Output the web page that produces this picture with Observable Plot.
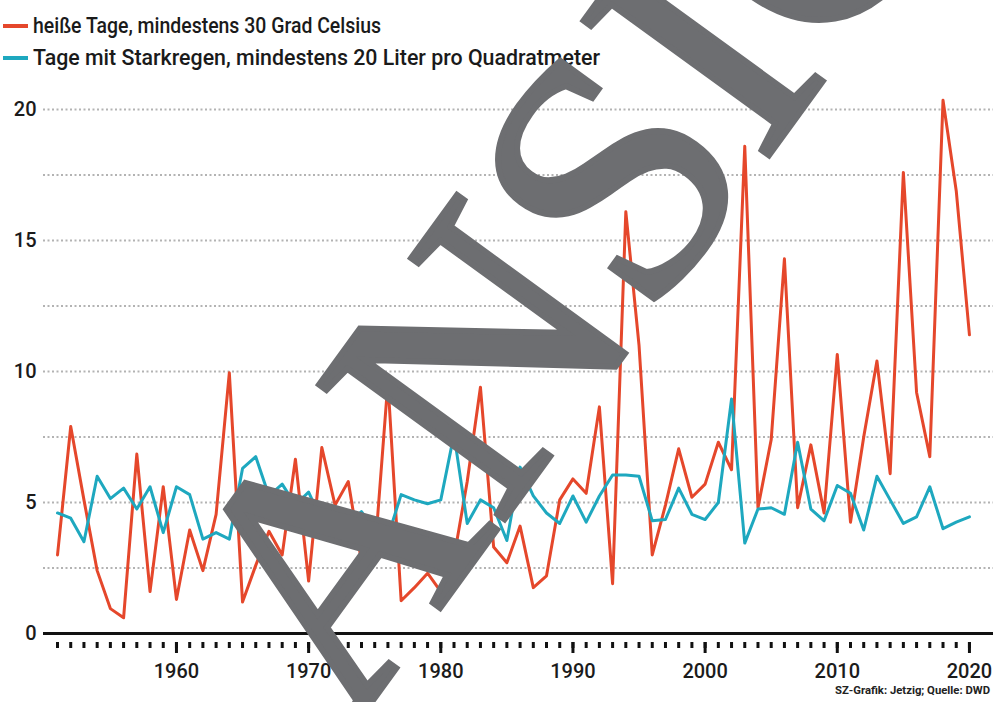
<!DOCTYPE html>
<html><head><meta charset="utf-8">
<script src="https://cdn.jsdelivr.net/npm/d3@7"></script>
<script src="https://cdn.jsdelivr.net/npm/@observablehq/plot@0.6"></script>
<style>
body{margin:0;background:#fff;}
#wrap{position:relative;width:998px;height:702px;overflow:hidden;background:#fff;font-family:Roboto,"Liberation Sans",sans-serif;}
.row{position:absolute;left:33px;white-space:nowrap;font-size:22px;line-height:24px;font-weight:500;color:#1a1a1a;transform-origin:0 50%;}
.sw{position:absolute;left:3px;width:25px;height:4px;}
#chart{position:absolute;left:0;top:80px;}
#credit{position:absolute;left:835px;top:684px;font-size:10.5px;font-weight:bold;color:#222;white-space:nowrap;transform-origin:0 50%;}
#wm{position:absolute;left:0;top:0;pointer-events:none;}
</style></head>
<body><div id="wrap">
<div class="sw" style="top:24px;background:#e5472b"></div>
<div class="row fit" data-w="348" style="top:14px">heiße Tage, mindestens 30 Grad Celsius</div>
<div class="sw" style="top:56px;background:#1ea8bf"></div>
<div class="row fit" data-w="567" style="top:46px">Tage mit Starkregen, mindestens 20 Liter pro Quadratmeter</div>
<div id="chart"></div>
<div id="credit" class="fit" data-w="155">SZ-Grafik: Jetzig; Quelle: DWD</div>
<svg id="wm" width="998" height="702"><text x="350" y="732" transform="rotate(-54 350 732)" font-family="Liberation Serif" font-size="350" fill="#6d6e71" stroke="#6d6e71" stroke-width="6" stroke-linejoin="miter">ANSICHT</text></svg>
</div>
<script>
const years = [1951,1952,1953,1954,1955,1956,1957,1958,1959,1960,
1961,1962,1963,1964,1965,1966,1967,1968,1969,1970,
1971,1972,1973,1974,1975,1976,1977,1978,1979,1980,
1981,1982,1983,1984,1985,1986,1987,1988,1989,1990,
1991,1992,1993,1994,1995,1996,1997,1998,1999,2000,
2001,2002,2003,2004,2005,2006,2007,2008,2009,2010,
2011,2012,2013,2014,2015,2016,2017,2018,2019,2020];
const hotDays = [3.0,7.9,5.1,2.4,0.95,0.6,6.85,1.6,5.6,1.3,
3.95,2.4,4.55,9.95,1.2,2.6,3.9,3.0,6.65,2.0,
7.1,4.9,5.8,2.75,3.0,9.6,1.25,1.75,2.3,1.6,
2.9,5.8,9.4,3.3,2.7,4.1,1.75,2.2,5.1,5.9,
5.35,8.65,1.9,16.1,11.0,3.0,4.9,7.05,5.2,5.7,
7.3,6.25,18.6,4.8,7.4,14.3,4.8,7.2,4.6,10.65,
4.25,7.5,10.4,6.1,17.6,9.2,6.75,20.35,16.9,11.4];
const rainDays = [4.6,4.4,3.5,6.0,5.15,5.55,4.75,5.6,3.85,5.6,
5.3,3.6,3.85,3.6,6.3,6.75,5.25,5.7,4.9,5.4,
4.3,4.8,4.2,4.65,3.9,3.7,5.3,5.1,4.95,5.1,
7.6,4.2,5.1,4.8,3.55,6.35,5.25,4.6,4.2,5.25,
4.25,5.25,6.05,6.05,6.0,4.3,4.35,5.55,4.55,4.35,
5.0,8.95,3.45,4.75,4.8,4.55,7.3,4.75,4.3,5.65,
5.35,3.95,6.0,5.1,4.2,4.45,5.6,4.0,4.25,4.45];
const yLabels = [0,5,10,15,20];
const gridLines = [2.5,5,7.5,10,12.5,15,17.5,20];
const decades = [1960,1970,1980,1990,2000,2010,2020];

const data = years.map((y,i)=>({year:y, hot:hotDays[i], rain:rainDays[i]}));

const chart = Plot.plot({
  width: 998, height: 622,
  marginLeft: 43, marginRight: 5, marginTop: 29, marginBottom: 69,
  x: {domain: [1949.94, 2021.82], label: null},
  y: {domain: [0, 20], label: null},
  style: {fontFamily: "Roboto, sans-serif", background: "transparent", color: "#1b1b1b"},
  marks: [
    Plot.ruleY(gridLines, {stroke: "#b3b3b3", strokeWidth: 2, strokeDasharray: "2,2.5"}),
    Plot.axisY(yLabels, {anchor: "left", tickSize: 0, tickPadding: 7, fontSize: 20, fontWeight: 500, label: null}),
    Plot.line(data, {x: "year", y: "hot", stroke: "#e5472b", strokeWidth: 3}),
    Plot.line(data, {x: "year", y: "rain", stroke: "#1ea8bf", strokeWidth: 3}),
    Plot.ruleY([0], {stroke: "#111", strokeWidth: 3}),
    Plot.axisX(years, {tickSize: 6, dy: 9, strokeWidth: 3, stroke: "#111", fill: "none", label: null}),
    Plot.axisX(decades, {tickSize: 11, dy: 9, strokeWidth: 3, stroke: "#111", fill: "none", label: null}),
    Plot.axisX(decades, {tickSize: 0, tickPadding: 30, fontSize: 20, fontWeight: 500, tickFormat: d => String(d), stroke: "none", label: null})
  ]
});
document.getElementById("chart").appendChild(chart);
document.querySelectorAll(".fit").forEach(el => {
  const w = el.getBoundingClientRect().width;
  el.style.transform = `scaleX(${(+el.dataset.w) / w})`;
});
</script>
</body></html>
